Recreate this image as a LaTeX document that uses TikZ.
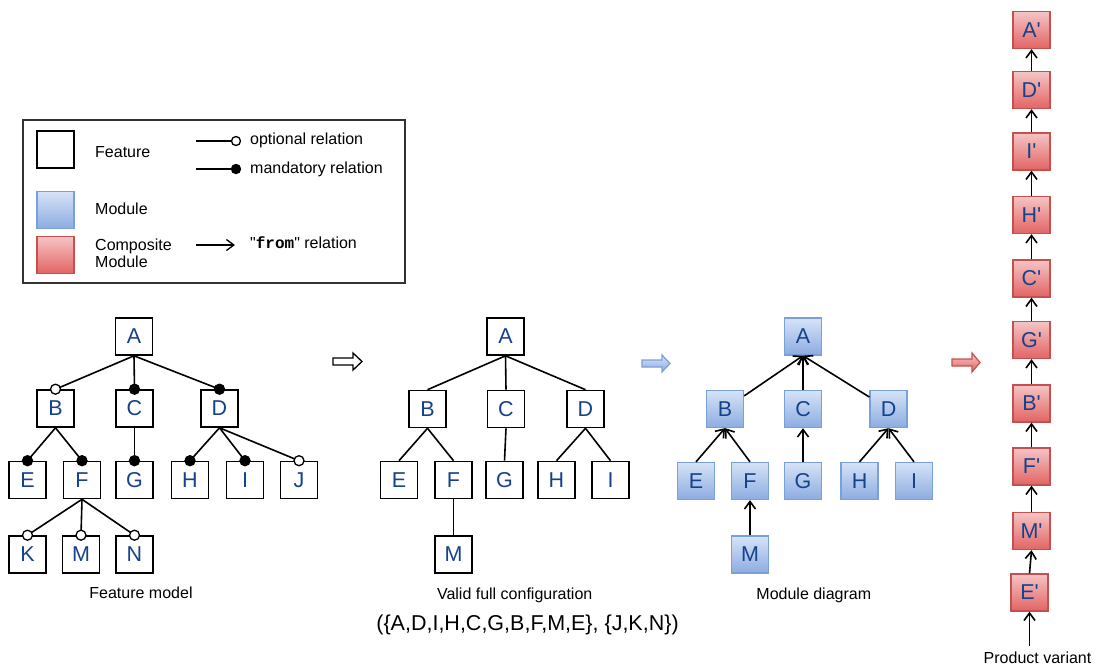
\documentclass[tikz,border=0pt]{standalone}
\usepackage{fontspec}
\setmainfont{Liberation Sans}
\newfontfamily\monob{Liberation Mono}
\usetikzlibrary{arrows.meta,calc}
\definecolor{lettc}{RGB}{22,66,140}
\definecolor{modtop}{RGB}{214,227,247}
\definecolor{modbot}{RGB}{140,172,224}
\definecolor{modbrd}{RGB}{120,160,218}
\definecolor{cmptop}{RGB}{246,196,196}
\definecolor{cmpbot}{RGB}{226,100,100}
\definecolor{cmpbrd}{RGB}{196,80,80}
\definecolor{legbrd}{RGB}{50,50,50}
\begin{document}
\begin{tikzpicture}[x=1pt,y=-1pt,
  fbox/.style={draw=black, fill=white, line width=1.6pt, minimum width=37pt, minimum height=37pt, inner sep=0pt, font=\fontsize{21.5}{24}\selectfont, text=lettc},
  mbox/.style={fbox, draw=modbrd, top color=modtop, bottom color=modbot, line width=1.3pt},
  cbox/.style={fbox, draw=cmpbrd, top color=cmptop, bottom color=cmpbot, line width=1.3pt},
  fl/.style={line width=1.6pt, draw=black},
  ocirc/.style={draw=black, fill=white, line width=1.3pt},
  mcirc/.style={draw=black, fill=black, line width=1.3pt},
  barb/.style={line width=1.6pt, -{Straight Barb[length=7.5pt,width=11pt]}},
  lbl/.style={font=\fontsize{16}{17}\selectfont, inner sep=0pt}
]
\useasboundingbox (0,0) rectangle (1099,665);

% ---------------- Legend ----------------
\draw[legbrd, line width=1.8pt] (23,120) rectangle (405,283);
\node[fbox] (lgF) at (55.5,149.5) {};
\node[mbox] (lgM) at (55.5,210) {};
\node[cbox] (lgC) at (55.5,255) {};
\node[lbl, anchor=west] (lgFt) at (95,152) {Feature};
\node[lbl, anchor=west] (lgMt) at (95,209) {Module};
\node[lbl, anchor=west, align=left] (lgCt) at (95,253.5) {Composite\\Module};
\coordinate (lo1) at (196,141); \coordinate (lo2) at (231.5,141);
\draw[fl, line width=1.3pt] (lo1) -- (lo2);
\draw[ocirc] ($(lo2)+(4.5,0)$) circle (4.5pt);
\coordinate (lm1) at (196,169); \coordinate (lm2) at (231.5,169);
\draw[fl, line width=1.3pt] (lm1) -- (lm2);
\draw[mcirc] ($(lm2)+(4.5,0)$) circle (4.5pt);
\node[lbl, anchor=west] (lgO) at (250,140) {optional relation};
\node[lbl, anchor=west] (lgMa) at (250,169) {mandatory relation};
\coordinate (la1) at (196,245); \coordinate (la2) at (235,245);
\draw[barb, line width=1.3pt] (la1) -- (la2);
\node[lbl, anchor=west] (lgFr) at (250,243) {\textquotedbl{\monob\bfseries from}\textquotedbl\ relation};

% ---------------- Feature model ----------------
\node[fbox] (fmA) at (134,336.5) {A};
\node[fbox] (fmB) at (55.5,408.5) {B};
\node[fbox] (fmC) at (134.5,408.5) {C};
\node[fbox] (fmD) at (219.5,408.5) {D};
\node[fbox] (fmE) at (27.5,480) {E};
\node[fbox] (fmF) at (82,480) {F};
\node[fbox] (fmG) at (134.5,480) {G};
\node[fbox] (fmH) at (190,480) {H};
\node[fbox] (fmI) at (245,480) {I};
\node[fbox] (fmJ) at (299,480) {J};
\node[fbox] (fmK) at (27.5,554.5) {K};
\node[fbox] (fmM) at (81,554.5) {M};
\node[fbox] (fmN) at (134.5,554.5) {N};
\foreach \p/\c in {A/B,A/C,A/D,B/E,B/F,C/G,D/H,D/I,D/J,F/K,F/M,F/N}
  \draw[fl] (fm\p.south) -- (fm\c.north);
\foreach \c in {B,J,K,M,N} \draw[ocirc] (fm\c.north) circle (5pt);
\foreach \c in {C,D,E,F,G,H,I} \draw[mcirc] (fm\c.north) circle (5pt);
\node[lbl] (fmL) at (141,593) {Feature model};

% hollow arrow
\draw[black, fill=white, line width=1.3pt, line join=miter]
  (333,358) -- (353,358) -- (353,353) -- (362,361.5) -- (353,370) -- (353,365) -- (333,365) -- cycle;

% ---------------- Valid configuration ----------------
\node[fbox] (cfA) at (505.5,336.5) {A};
\node[fbox] (cfB) at (427.5,409) {B};
\node[fbox] (cfC) at (506,409) {C};
\node[fbox] (cfD) at (585.5,409) {D};
\node[fbox] (cfE) at (399,480) {E};
\node[fbox] (cfF) at (453.5,480) {F};
\node[fbox] (cfG) at (504.5,480) {G};
\node[fbox] (cfH) at (556.5,480) {H};
\node[fbox] (cfI) at (610.5,480) {I};
\node[fbox] (cfM) at (453.5,554.5) {M};
\foreach \p/\c in {A/B,A/C,A/D,B/E,B/F,C/G,D/H,D/I,F/M}
  \draw[fl] (cf\p.south) -- (cf\c.north);
\node[lbl] (cfL) at (514.7,595) {Valid full configuration};
\node[font=\fontsize{21.5}{24}\selectfont, inner sep=0pt] (cfS) at (527.5,625) {(\{A,D,I,H,C,G,B,F,M,E\}, \{J,K,N\})};

% blue arrow
\draw[modbrd, top color=modtop, bottom color=modbot, line width=1.2pt, line join=miter]
  (642,360) -- (662,360) -- (662,355) -- (670,363.5) -- (662,372) -- (662,367) -- (642,367) -- cycle;

% ---------------- Module diagram ----------------
\node[mbox] (mdA) at (803,336.5) {A};
\node[mbox] (mdB) at (725,409) {B};
\node[mbox] (mdC) at (803,409) {C};
\node[mbox] (mdD) at (888.5,409) {D};
\node[mbox] (mdE) at (696,481) {E};
\node[mbox] (mdF) at (750,481) {F};
\node[mbox] (mdG) at (803,481) {G};
\node[mbox] (mdH) at (859.5,481) {H};
\node[mbox] (mdI) at (914,481) {I};
\node[mbox] (mdM) at (750,554.5) {M};
\foreach \c in {B,C,D} \draw[barb] (md\c) -- (mdA.south);
\foreach \p/\c in {B/E,B/F,C/G,D/H,D/I,F/M} \draw[barb] (md\c.north) -- (md\p.south);
\node[lbl] (mdL) at (813.8,595) {Module diagram};

% red arrow
\draw[cmpbrd, top color=cmptop, bottom color=cmpbot, line width=1.2pt, line join=miter]
  (952,359) -- (972,359) -- (972,353) -- (980,362.5) -- (972,372) -- (972,366) -- (952,366) -- cycle;

% ---------------- Product variant ----------------
\node[cbox] (pA) at (1031.5,30) {A\textquotesingle};
\node[cbox] (pD) at (1031.5,90) {D\textquotesingle};
\node[cbox] (pI) at (1031.5,151.5) {I\textquotesingle};
\node[cbox] (pH) at (1031.5,215) {H\textquotesingle};
\node[cbox] (pC) at (1031.5,278.5) {C\textquotesingle};
\node[cbox] (pG) at (1031.5,340) {G\textquotesingle};
\node[cbox] (pB) at (1031.5,403.5) {B\textquotesingle};
\node[cbox] (pF) at (1031.5,466.5) {F\textquotesingle};
\node[cbox] (pM) at (1031.5,531) {M\textquotesingle};
\node[cbox] (pE) at (1029.5,592.5) {E\textquotesingle};
\foreach \a/\b in {D/A,I/D,H/I,C/H,G/C,B/G,F/B,M/F,E/M}
  \draw[barb] (p\a.north) -- (p\b.south);
\coordinate (pvS) at (1029.5,646);
\draw[barb] (pvS) -- (pE.south);
\node[lbl] (pvL) at (1037.5,657.5) {Product variant};
\end{tikzpicture}
\end{document}
